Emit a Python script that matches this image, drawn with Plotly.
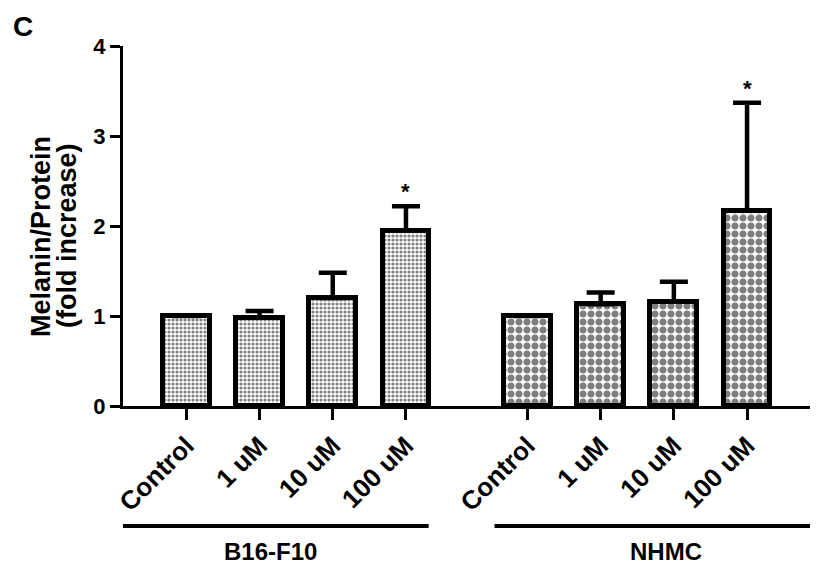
import plotly.graph_objects as go

# ---- data ----
groups = ["B16-F10", "NHMC"]
conditions = ["Control", "1 uM", "10 uM", "100 uM"]
b16_mean = [1.00, 0.98, 1.20, 1.95]
b16_err = [None, 0.075, 0.28, 0.27]
nhmc_mean = [1.00, 1.13, 1.16, 2.17]
nhmc_err = [None, 0.13, 0.22, 1.20]
b16_sig = ["", "", "", "*"]
nhmc_sig = ["", "", "", "*"]
y_ticks = [0, 1, 2, 3, 4]
y_title = ["Melanin/Protein", "(fold increase)"]

# ---- layout of the categories along the x axis ----
GAP = 1.66  # distance between last bar of group 1 and first of group 2
x_b16 = [float(i) for i in range(len(conditions))]
x_nhmc = [len(conditions) - 1 + GAP + i for i in range(len(conditions))]

FONT = "Arial, Liberation Sans, Helvetica, sans-serif"
BAR_W = 0.64
LINE_W = 5

fig = go.Figure()


def add_group(xs, means, errs, pat_size, solidity, name):
    fig.add_trace(go.Bar(
        x=xs, y=means, width=BAR_W, name=name, showlegend=False,
        marker=dict(
            color="white",
            line=dict(color="black", width=LINE_W),
            pattern=dict(shape=".", size=pat_size, solidity=solidity,
                         fgcolor="black", bgcolor="white"),
        ),
        error_y=dict(type="data", symmetric=False, array=errs,
                     arrayminus=[0 if e is not None else None for e in errs],
                     color="black", thickness=4.5, width=14),
    ))


add_group(x_b16, b16_mean, b16_err, 4, 0.5, groups[0])
add_group(x_nhmc, nhmc_mean, nhmc_err, 8, 0.6, groups[1])


def bold(size):
    return dict(family=FONT, size=size, color="black", weight="bold")


annotations = []
# significance stars
for xs, means, errs, sig in [(x_b16, b16_mean, b16_err, b16_sig),
                             (x_nhmc, nhmc_mean, nhmc_err, nhmc_sig)]:
    for xv, m, e, s in zip(xs, means, errs, sig):
        if s:
            annotations.append(dict(
                x=xv, y=m + (e or 0), xref="x", yref="y", text=s,
                showarrow=False, xanchor="center", yanchor="bottom",
                yshift=0, font=bold(22)))

# group labels + lines under the tick labels
group_spans = [(-1.04, 3.31), (4.21, 8.67)]
group_label_x = [1.15, 6.55]
shapes = []
for (x0, x1), lx, g in zip(group_spans, group_label_x, groups):
    shapes.append(dict(type="line", xref="x", yref="paper", x0=x0, x1=x1,
                       y0=-0.333, y1=-0.333,
                       line=dict(color="black", width=4)))
    annotations.append(dict(x=lx, y=-0.405, xref="x", yref="paper", text=g,
                            showarrow=False, xanchor="center",
                            yanchor="middle", font=bold(24)))

# y-axis title (two lines)
for tx, xp in zip(y_title, [-0.1194, -0.0815]):
    annotations.append(dict(x=xp, y=0.472, xref="paper", yref="paper",
                            text=tx, textangle=-90, showarrow=False,
                            xanchor="center", yanchor="middle",
                            font=bold(27)))
# panel letter
annotations.append(dict(x=-0.1456, y=1.104, xref="paper", yref="paper",
                        text="C", showarrow=False, xanchor="center",
                        yanchor="top", font=bold(28)))

# page body has an 8px margin: size figure so it fits the 824x569 window
fig.update_layout(
    width=816, height=561,
    margin=dict(l=115, r=14, t=38, b=163),
    paper_bgcolor="white", plot_bgcolor="white",
    bargap=0,
    shapes=shapes, annotations=annotations,
    xaxis=dict(range=[-0.866, 8.52], tickvals=x_b16 + x_nhmc,
               ticktext=conditions + conditions, tickangle=-45,
               showline=True, linecolor="black", linewidth=3,
               ticks="outside", ticklen=11, tickwidth=3, tickcolor="black",
               showgrid=False, zeroline=False, tickfont=bold(26)),
    yaxis=dict(range=[0, 4], tickvals=y_ticks,
               showline=True, linecolor="black", linewidth=3,
               ticks="outside", ticklen=10, tickwidth=3, tickcolor="black",
               showgrid=False, zeroline=False, ticklabelstandoff=0,
               tickfont=bold(22)),
)

fig.write_html("out.html")
